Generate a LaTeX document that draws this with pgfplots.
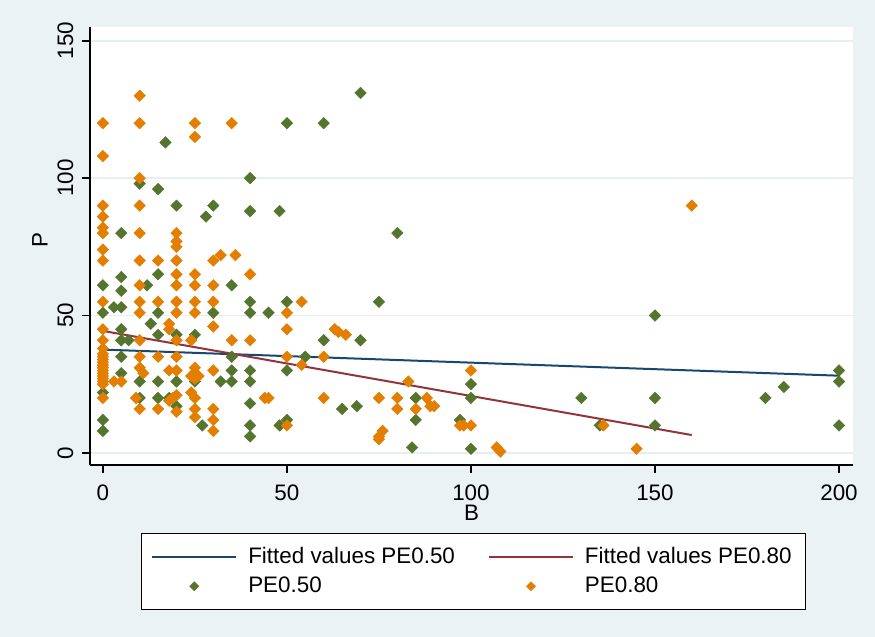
\documentclass[border=0pt]{standalone}
\usepackage{pgfplots}
\pgfplotsset{compat=1.18}
\usepackage{fontspec}
\setmainfont{Liberation Sans}
\definecolor{bgc}{HTML}{EAF2F3}
\definecolor{gridc}{HTML}{E6EEF1}
\definecolor{navyc}{HTML}{1A476F}
\definecolor{maroonc}{HTML}{90353B}
\definecolor{greenc}{HTML}{55752F}
\definecolor{orangec}{HTML}{E37E00}

\begin{document}
\begin{tikzpicture}
\fill[bgc] (-45pt,-86pt) rectangle (392.5pt,232.5pt);
\begin{axis}[
scale only axis,width=381.5pt,height=219pt,
at={(0,0)},anchor=south west,
xmin=-3.5,xmax=203.8,ymin=-4.4,ymax=155,
axis x line=bottom,axis y line=left,
axis line style={-,line width=0.8pt,black},
axis background/.style={fill=white},
xtick={0,50,100,150,200},ytick={0,50,100,150},
tick align=outside,major tick length=4pt,
tick style={line width=0.8pt,black},
ymajorgrids,grid style={gridc,line width=0.8pt},
font=\fontsize{11.2}{13}\selectfont,
/pgf/number format/assume math mode=true,
yticklabel style={rotate=90,anchor=south,yshift=0.8pt},
xticklabel style={yshift=-2.5pt},
xlabel={B},ylabel={P},
xlabel style={at={(axis description cs:0.5,0)},anchor=center,yshift=-24pt,inner sep=0pt},
ylabel style={at={(axis description cs:-0.0655,0.514)},anchor=center},
legend columns=2,
legend style={at={(0.5026,-0.1553)},anchor=north,draw=black,line width=0.7pt,fill=white,
  font=\fontsize{11.2}{13}\selectfont,cells={anchor=west},
  /tikz/every odd column/.append style={column sep=3.5pt},
  /tikz/every even column/.append style={column sep=14.5pt},
  row sep=1pt,inner xsep=5pt,inner ysep=5pt},
legend image code/.code={\draw[mark repeat=2,mark phase=2,#1] plot coordinates {(0pt,0pt) (21pt,0pt) (42pt,0pt)};},
]
\addplot[navyc,line width=1pt] coordinates {(0,37.6) (200,28.1)};
\addlegendentry{Fitted values PE0.50}
\addplot[maroonc,line width=1pt] coordinates {(0,44.4) (160,6.5)};
\addlegendentry{Fitted values PE0.80\hspace{3pt}}
\addplot[only marks,mark=diamond*,mark size=2.9pt,
  mark options={xscale=1.33,fill=greenc,draw=greenc,line width=0.2pt},
  legend image post style={mark size=2.3pt}] coordinates {
(17,113) (10,98) (15,96) (20,90) (30,90) (28,86) (5,80) (5,64) (15,65) (0,61)
(5,59) (12,61) (35,61) (3,53) (5,53) (0,51) (15,51) (30,51) (13,47) (5,45)
(15,43) (20,43) (25,43) (5,41) (7,41) (5,35) (5,29) (10,26) (15,26) (20,26)
(25,26) (32,26) (35,26) (35,30) (35,35) (0,22) (10,20) (15,20) (18,20) (20,17)
(27,10) (0,12) (0,8)
(70,131) (50,120) (60,120) (40,100) (40,88) (48,88) (80,80)
(40,55) (50,55) (75,55) (40,51) (45,51) (60,41) (70,41) (55,35) (40,30) (50,30)
(40,26) (40,18) (65,16) (69,17) (85,20) (85,12) (40,10) (40,6) (48,10) (50,12) (84,2)
(150,50) (100,25) (100,20) (130,20) (150,20) (97,12) (135,10) (150,10) (100,1.5)
(180,20) (185,24) (200,30) (200,26) (200,10)
};
\addlegendentry{PE0.50}
\addplot[only marks,mark=diamond*,mark size=2.9pt,
  mark options={xscale=1.33,fill=orangec,draw=orangec,line width=0.2pt},
  legend image post style={mark size=2.3pt}] coordinates {
(10,130) (0,120) (10,120) (25,120) (35,120) (25,115) (0,108) (10,100) (0,90) (10,90)
(0,86) (0,82) (0,80) (10,80) (20,80) (20,77) (20,75) (0,74) (0,70) (10,70)
(15,70) (20,70) (30,70) (32,72) (36,72) (20,65) (25,65) (40,65)
(10,61) (20,61) (25,61) (30,61) (0,55) (10,55) (15,55) (20,55) (25,55) (30,55)
(10,51) (20,51) (25,51) (18,47) (18,45) (0,45) (30,46) (20,41) (24,41) (35,41)
(0,41) (10,41)
(0,38) (0,36) (0,35) (0,34) (0,33) (0,32) (0,31) (0,30) (0,29) (0,28) (0,27)
(0,26) (0,25) (0,20)
(10,35) (15,35) (20,35) (3,26) (5,26) (10,31) (11,29) (18,30) (20,30) (25,31)
(25,29) (24,28) (26,28) (25,27) (30,30) (9,20) (18,19) (19,20) (20,21) (10,16)
(15,16) (20,15) (24,22) (25,20) (25,16) (25,13) (30,16) (30,12) (30,8)
(54,55) (50,51) (50,45) (63,45) (64,44) (66,43) (40,41) (50,35) (60,35) (54,32)
(83,26) (44,20) (45,20) (60,20) (75,20) (80,20) (88,20) (80,16) (85,16) (89,17)
(90,17) (50,10) (76,8) (75,6) (75,5)
(100,30) (97,10) (98,10) (100,10) (107,2) (108,0.5) (145,1.5) (136,10) (160,90)
};
\addlegendentry{PE0.80}
\end{axis}
\pgfresetboundingbox
\useasboundingbox (-45pt,-86pt) rectangle (392.5pt,232.5pt);
\end{tikzpicture}
\end{document}
